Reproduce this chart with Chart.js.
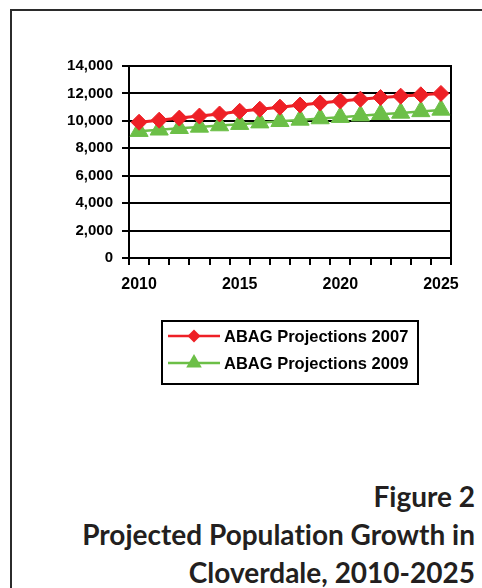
<!DOCTYPE html>
<html>
<head>
<meta charset="utf-8">
<script src="https://cdn.jsdelivr.net/npm/chart.js@4.4.0/dist/chart.umd.min.js"></script>
<style>
  body { margin: 0; background: #fff; }
  #page { position: relative; width: 482px; height: 588px; overflow: hidden; }
  #frame { position: absolute; left: 10px; top: 9px; width: 520px; height: 620px;
           border-left: 2px solid #2b2b2b; border-top: 2px solid #2b2b2b; }
  #chart { position: absolute; left: 0; top: 0; }
  #title { position: absolute; right: 7px; top: 477px; text-align: right;
           font-family: Lato, "Open Sans", sans-serif; font-weight: bold;
           font-variant-ligatures: none; font-feature-settings: "liga" 0;
           font-size: 28px; line-height: 38px; color: #231f20; white-space: nowrap; }
</style>
</head>
<body>
<div id="page">
  <div id="frame"></div>
  <canvas id="chart" width="482" height="400"></canvas>
  <div id="title">Figure 2<br>Projected Population Growth in<br>Cloverdale, 2010-2025</div>
</div>
<script>
const years = ['2010','2011','2012','2013','2014','2015','2016','2017',
               '2018','2019','2020','2021','2022','2023','2024','2025'];
const abag2007 = [9900, 10050, 10200, 10350, 10500, 10700, 10850, 11000,
                  11150, 11300, 11450, 11580, 11700, 11800, 11900, 12000];
const abag2009 = [9250, 9350, 9460, 9560, 9660, 9760, 9870, 9970,
                  10070, 10170, 10270, 10380, 10480, 10580, 10690, 10800];
const seriesNames = ['ABAG Projections 2007', 'ABAG Projections 2009'];
const yTicksMax = 14000;
const yTickStep = 2000;

const FONT = '"Liberation Sans", Arial, sans-serif';

function markerPath(ctx, style, r, x, y) {
  ctx.beginPath();
  if (style === 'rectRot') {
    ctx.moveTo(x - r, y); ctx.lineTo(x, y - r);
    ctx.lineTo(x + r, y); ctx.lineTo(x, y + r);
  } else {
    ctx.moveTo(x, y - r);
    ctx.lineTo(x + r * 0.866, y + r / 2);
    ctx.lineTo(x - r * 0.866, y + r / 2);
  }
  ctx.closePath();
  ctx.fill();
}

// black frame round the plot area
const plotBorder = {
  id: 'plotBorder',
  beforeDatasetsDraw(chart) {
    const a = chart.chartArea, ctx = chart.ctx;
    ctx.save();
    ctx.strokeStyle = '#000';
    ctx.lineWidth = 2;
    ctx.strokeRect(a.left, a.top, a.right - a.left, a.bottom - a.top);
    ctx.restore();
  }
};

// boxed legend under the plot, line + marker samples
const boxLegend = {
  id: 'boxLegend',
  afterDraw(chart) {
    const ctx = chart.ctx;
    ctx.save();
    ctx.fillStyle = '#fff';
    ctx.fillRect(162, 321, 256, 63);
    ctx.strokeStyle = '#000';
    ctx.lineWidth = 2;
    ctx.strokeRect(162, 321, 256, 63);
    chart.data.datasets.forEach((ds, i) => {
      const y = 336 + i * 27;
      ctx.strokeStyle = ds.borderColor;
      ctx.lineWidth = 2.5;
      ctx.beginPath();
      ctx.moveTo(168, y); ctx.lineTo(220, y);
      ctx.stroke();
      ctx.fillStyle = ds.pointBackgroundColor;
      markerPath(ctx, ds.pointStyle, ds.pointStyle === 'rectRot' ? 6.5 : 9, 194, y);
      ctx.fillStyle = '#000';
      ctx.font = 'bold 16.5px ' + FONT;
      ctx.textBaseline = 'middle';
      ctx.fillText(ds.label, 224, y + 1);
    });
    ctx.restore();
  }
};

new Chart(document.getElementById('chart'), {
  type: 'line',
  data: {
    labels: years,
    datasets: [
      {
        label: seriesNames[0],
        data: abag2007,
        borderColor: '#ee2026',
        borderWidth: 3,
        pointStyle: 'rectRot',
        pointRadius: 8,
        pointBackgroundColor: '#ee2026',
        pointBorderColor: '#ee2026',
        pointBorderWidth: 1
      },
      {
        label: seriesNames[1],
        data: abag2009,
        borderColor: '#6cbf47',
        borderWidth: 2.5,
        pointStyle: 'triangle',
        pointRadius: 10.5,
        pointBackgroundColor: '#6cbf47',
        pointBorderColor: '#6cbf47',
        pointBorderWidth: 1
      }
    ]
  },
  options: {
    responsive: false,
    animation: false,
    devicePixelRatio: 1,
    layout: { padding: { left: 0, top: 66, right: 31, bottom: 0 } },
    plugins: { legend: { display: false }, tooltip: { enabled: false } },
    scales: {
      x: {
        type: 'category',
        offset: true,
        afterFit: s => { s.height = 142; },
        grid: { offset: true, drawOnChartArea: false, drawTicks: true, tickLength: 7,
                color: '#000', lineWidth: 2 },
        border: { display: true, color: '#000', width: 2 },
        ticks: {
          autoSkip: false, maxRotation: 0, padding: 10,
          color: '#000', font: { family: FONT, size: 16, weight: 'bold' },
          callback: function(v) {
            const lab = this.getLabelForValue(v);
            return Number(lab) % 5 === 0 ? lab : '';
          }
        }
      },
      y: {
        min: 0, max: yTicksMax,
        afterFit: s => { s.width = 129; },
        grid: { color: '#000', lineWidth: 2, tickLength: 7 },
        border: { display: true, color: '#000', width: 2 },
        ticks: {
          stepSize: yTickStep, padding: 9, color: '#000',
          font: { family: FONT, size: 15, weight: 'bold' },
          callback: v => v.toLocaleString('en-US')
        }
      }
    }
  },
  plugins: [plotBorder, boxLegend]
});
</script>
</body>
</html>
